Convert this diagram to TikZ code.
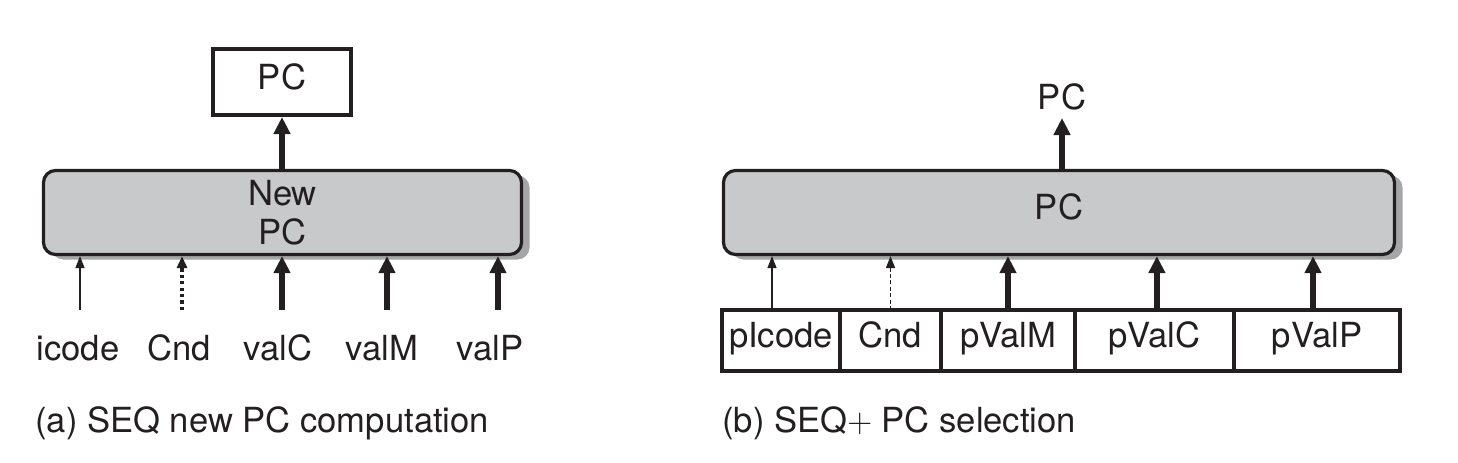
\documentclass[tikz,border=0pt]{standalone}
\usepackage{fontspec}
\setmainfont{TeX Gyre Heros}
\usetikzlibrary{arrows.meta,shadows}
\definecolor{boxgray}{HTML}{C8C9CB}
\definecolor{shadowgray}{HTML}{A5A6A8}
\definecolor{ink}{HTML}{231F20}
\begin{document}
\begin{tikzpicture}[x=0.5pt,y=-0.5pt,
  every node/.style={font=\fontsize{17.3}{19.5}\selectfont, text=ink},
  unitbox/.style={draw=ink, line width=1.6pt, fill=boxgray, rounded corners=6pt,
    drop shadow={shadow xshift=4pt, shadow yshift=-2.5pt, fill=shadowgray, opacity=1},
    minimum height=42pt, inner sep=0pt},
  regbox/.style={draw=ink, line width=2pt, fill=white, minimum height=33pt, inner sep=0pt},
  field/.style={draw=ink, line width=2pt, fill=white, minimum height=30.5pt, inner sep=0pt,
    outer sep=0pt, text height=0.72em, text depth=0pt},
  lab/.style={anchor=base, inner sep=0pt},
  thickarrow/.style={draw=ink, line width=3pt, -{Triangle[length=8.5pt,width=8pt]}},
  thinarrow/.style={draw=ink, line width=0.6pt, -{Triangle[length=6pt,width=4.5pt]}},
  dotarrow/.style={draw=ink, line width=1.6pt, dash pattern=on 1.6pt off 1.6pt, -{Triangle[length=6pt,width=5pt]}},
  dasharrow/.style={draw=ink, line width=0.8pt, dash pattern=on 2pt off 1.2pt, -{Triangle[length=6pt,width=4.5pt]}},
  caption/.style={anchor=base west, inner sep=0pt}
]
\useasboundingbox (0,0) rectangle (1458,462);

% ---------- (a) ----------
\node[regbox, minimum width=69pt, text height=0.72em, text depth=0pt] (pcreg) at (282,82) {PC};
\node[unitbox, minimum width=239pt, align=center] (newpc) at (282.5,212.5) {New\\PC};

\node[lab] (l1) at (78,360) {icode};
\node[lab] (l2) at (179,360) {Cnd};
\node[lab] (l3) at (278,360) {valC};
\node[lab] (l4) at (382,360) {valM};
\node[lab] (l5) at (490,360) {valP};

\coordinate (a1) at (80,310);
\coordinate (a2) at (182,310);
\coordinate (a3) at (282,310);
\coordinate (a4) at (387,310);
\coordinate (a5) at (498,310);

\draw[thinarrow] (a1) -- (a1 |- newpc.south);
\draw[dotarrow] (a2) -- (a2 |- newpc.south);
\draw[thickarrow] (a3) -- (a3 |- newpc.south);
\draw[thickarrow] (a4) -- (a4 |- newpc.south);
\draw[thickarrow] (a5) -- (a5 |- newpc.south);
\draw[thickarrow] (pcreg.south |- newpc.north) -- (pcreg.south);

\node[caption] (capa) at (35,432) {(a) SEQ new PC computation};

% ---------- (b) ----------
\node[lab] (pcout) at (1062,109) {PC};
\coordinate (pctip) at (1062,118);
\node[unitbox, minimum width=335.5pt, text height=0.72em, text depth=0pt] (pcsel) at (1059,212.5) {PC};
\draw[thickarrow] (pctip |- pcsel.north) -- (pctip);

\node[field, minimum width=59pt] (f1) at (781,340.5) {pIcode};
\node[field, minimum width=50.5pt] (f2) at (890.5,340.5) {Cnd};
\node[field, minimum width=67pt] (f3) at (1008,340.5) {pValM};
\node[field, minimum width=79.5pt] (f4) at (1154.5,340.5) {pValC};
\node[field, minimum width=83pt] (f5) at (1317,340.5) {pValP};

\draw[thinarrow] ([xshift=-4.5pt]f1.north) -- ([xshift=-4.5pt]f1.north |- pcsel.south);
\draw[dasharrow] (f2.north) -- (f2.north |- pcsel.south);
\draw[thickarrow] (f3.north) -- (f3.north |- pcsel.south);
\draw[thickarrow] ([xshift=1.2pt]f4.north) -- ([xshift=1.2pt]f4.north |- pcsel.south);
\draw[thickarrow] ([xshift=-2pt]f5.north) -- ([xshift=-2pt]f5.north |- pcsel.south);

\node[caption] (capb) at (722,432) {(b) SEQ$+$ PC selection};
\end{tikzpicture}
\end{document}
